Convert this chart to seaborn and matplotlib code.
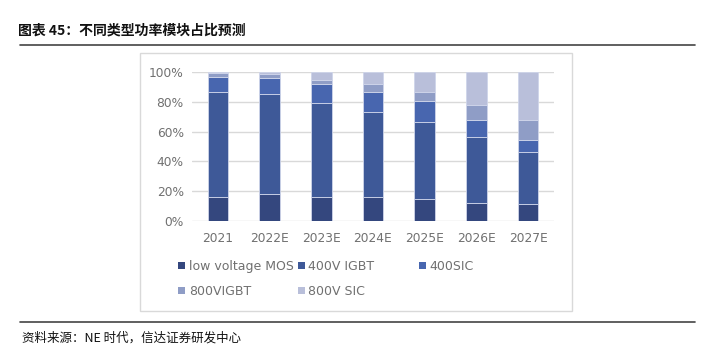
import matplotlib
matplotlib.use("Agg")
import matplotlib.pyplot as plt
import seaborn as sns
import numpy as np
import pandas as pd
from matplotlib.lines import Line2D
from matplotlib.patches import Rectangle
from matplotlib.ticker import FuncFormatter

categories = ["2021", "2022E", "2023E", "2024E", "2025E", "2026E", "2027E"]
series_names = ["low voltage MOS", "400V IGBT", "400SIC", "800VIGBT", "800V SIC"]
low_voltage_mos = [16.5, 18.0, 16.5, 16.0, 14.7, 12.5, 11.8]
igbt_400v = [69.7, 67.0, 62.3, 56.8, 51.4, 44.1, 34.3]
sic_400 = [10.5, 11.0, 13.0, 13.6, 14.5, 11.1, 8.5]
igbt_800v = [2.6, 2.4, 2.6, 5.4, 5.8, 10.0, 13.1]
sic_800v = [0.7, 1.6, 5.6, 8.2, 13.6, 22.3, 32.3]
yticks = [0, 20, 40, 60, 80, 100]

colors = ["#34477E", "#3E5998", "#4866AF", "#8F9DC6", "#B9BFDA"]
series_values = [low_voltage_mos, igbt_400v, sic_400, igbt_800v, sic_800v]

sns.set_style("white")
plt.rcParams["font.family"] = ["DejaVu Sans", "Noto Sans CJK SC"]

W, H = 716, 349
fig = plt.figure(figsize=(W / 100, H / 100), dpi=100)

def fx(px):
    return px / W

def fy(py):
    return 1 - py / H

left, right, top, bottom = 192, 554, 71.7, 221.3
ax = fig.add_axes([fx(left), fy(bottom), fx(right - left), (bottom - top) / H])

cum = np.zeros(len(categories))
for name, vals, col in zip(series_names, series_values, colors):
    df = pd.DataFrame({"cat": categories, "val": vals})
    sns.barplot(data=df, x="cat", y="val", order=categories, bottom=cum,
                color=col, saturation=1, width=0.4, ax=ax, label=name,
                edgecolor="#cfd5ea", linewidth=0.6, zorder=3)
    cum = cum + np.array(vals)

handles, labels = ax.get_legend_handles_labels()
if ax.get_legend() is not None:
    ax.get_legend().remove()

ax.set_ylim(0, 100)
ax.set_xlim(-0.5, len(categories) - 0.5)
ax.set_yticks(yticks)
ax.yaxis.set_major_formatter(FuncFormatter(lambda v, p: f"{int(v)}%"))
ax.grid(axis="y", color="#d9d9d9", linewidth=1.0, zorder=0)
ax.grid(axis="x", visible=False)
for s in ax.spines.values():
    s.set_visible(False)
ax.tick_params(axis="both", length=0, labelsize=8.8, colors="#707070")
ax.tick_params(axis="y", pad=6)
ax.tick_params(axis="x", pad=8)
ax.set_xlabel("")
ax.set_ylabel("")

hmap = dict(zip(labels, handles))
legA_order = ["low voltage MOS", "800VIGBT", "400V IGBT", "800V SIC"]
legA = fig.legend([hmap[l] for l in legA_order], legA_order, ncol=2,
                  loc="upper left", bbox_to_anchor=(fx(178), fy(260)),
                  frameon=False, fontsize=9, handlelength=0.55, handleheight=0.55,
                  handletextpad=0.3, columnspacing=0.35, labelspacing=0.95,
                  borderpad=0, borderaxespad=0, labelcolor="#707070")
legB = fig.legend([hmap["400SIC"]], ["400SIC"], loc="upper left",
                  bbox_to_anchor=(fx(419), fy(260)), frameon=False, fontsize=9,
                  handlelength=0.55, handleheight=0.55, handletextpad=0.3,
                  borderpad=0, borderaxespad=0, labelcolor="#707070")
for leg in (legA, legB):
    for h in leg.legend_handles:
        h.set_edgecolor("none")

# chart border box
fig.add_artist(Rectangle((fx(140), fy(311)), fx(572 - 140), (311 - 53) / H,
                         transform=fig.transFigure, fill=False,
                         edgecolor="#d9d9d9", linewidth=1.0))

# title and rules
fig.text(fx(18), fy(31), "图表 45：不同类型功率模块占比预测", fontsize=10,
         fontweight="bold", family=["Noto Sans CJK SC", "DejaVu Sans"],
         va="center", ha="left", color="#111111")
fig.add_artist(Line2D([fx(20), fx(695)], [fy(45), fy(45)], color="#444444",
                      linewidth=1.2, transform=fig.transFigure))
fig.add_artist(Line2D([fx(20), fx(695)], [fy(322), fy(322)], color="#444444",
                      linewidth=1.2, transform=fig.transFigure))
fig.text(fx(22), fy(338), "资料来源：NE 时代，信达证券研发中心", fontsize=9,
         family=["Noto Sans CJK SC", "DejaVu Sans"], va="center", ha="left",
         color="#111111", style="italic")

fig.savefig("out.png", dpi=100)
